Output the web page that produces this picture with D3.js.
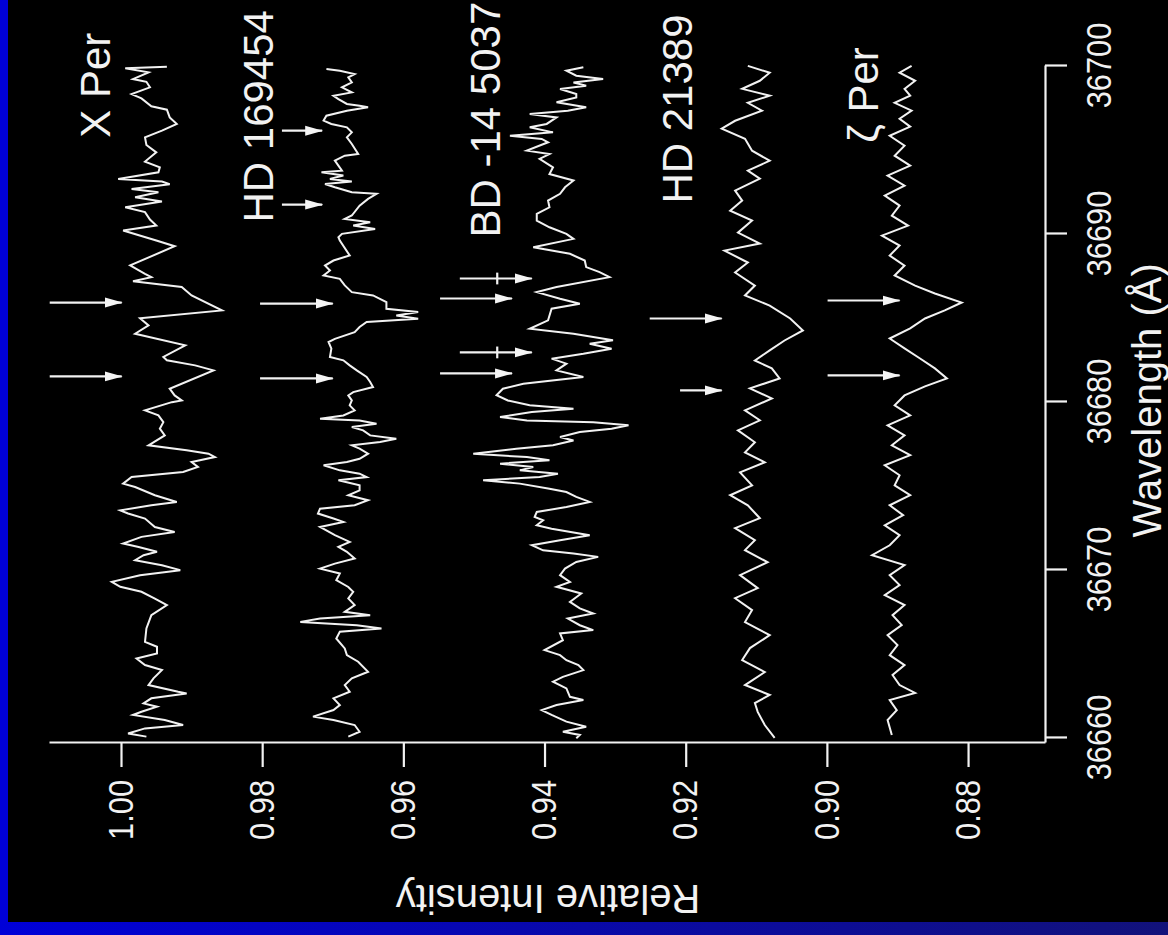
<!DOCTYPE html>
<html><head><meta charset="utf-8">
<script src="https://cdn.jsdelivr.net/npm/d3@7"></script>
<style>html,body{margin:0;padding:0;background:#000;}svg{display:block;}</style>
</head><body>
<svg id="c" width="1168" height="935"></svg>
<script>
const wavelengthTicks = [36660, 36670, 36680, 36690, 36700];
const intensityTicks = [1.00, 0.98, 0.96, 0.94, 0.92, 0.90, 0.88];
const wavelengthDomain = [36659.7, 36700];
const intensityDomain = [1.0102, 0.8691];

const starNames = ["X Per", "HD 169454", "BD -14 5037", "HD 21389", "\u03B6 Per"];

const xPer = [[36699.96,0.9935],[36699.86,0.9994],[36699.62,0.9961],[36699.22,0.9983],[36699.06,0.9964],[36698.73,0.9959],[36698.33,0.9985],[36698.07,0.9971],[36697.60,0.9957],[36697.40,0.9935],[36696.94,0.9931],[36696.55,0.9921],[36696.15,0.9942],[36695.75,0.9966],[36695.30,0.9964],[36694.86,0.9950],[36694.31,0.9966],[36693.97,0.9945],[36693.67,0.9947],[36693.28,1.0004],[36693.12,0.9942],[36692.96,0.9931],[36692.68,0.9985],[36692.48,0.9947],[36692.19,0.9980],[36691.93,0.9942],[36691.59,0.9994],[36691.30,0.9966],[36690.86,0.9959],[36690.50,0.9950],[36690.21,0.9997],[36689.61,0.9950],[36689.27,0.9924],[36688.13,0.9987],[36687.63,0.9966],[36687.43,0.9957],[36687.19,0.9983],[36686.84,0.9914],[36686.34,0.9900],[36685.45,0.9857],[36684.99,0.9973],[36684.56,0.9961],[36684.06,0.9980],[36683.37,0.9909],[36682.68,0.9940],[36682.48,0.9935],[36682.18,0.9895],[36681.88,0.9869],[36680.79,0.9931],[36680.39,0.9924],[36680.09,0.9914],[36679.99,0.9928],[36679.50,0.9966],[36679.20,0.9947],[36678.80,0.9940],[36678.41,0.9945],[36678.01,0.9938],[36677.42,0.9961],[36677.12,0.9907],[36676.92,0.9876],[36676.72,0.9867],[36676.43,0.9900],[36676.13,0.9891],[36675.83,0.9912],[36675.53,0.9985],[36675.14,0.9997],[36674.94,0.9980],[36674.45,0.9952],[36674.05,0.9921],[36673.85,0.9957],[36673.55,1.0001],[36673.36,0.9990],[36673.06,0.9966],[36672.56,0.9952],[36672.26,0.9924],[36671.97,0.9971],[36671.57,0.9997],[36671.37,0.9975],[36671.08,0.9949],[36670.88,0.9968],[36670.58,0.9980],[36670.28,0.9942],[36669.99,0.9916],[36669.69,0.9973],[36669.29,1.0013],[36669.00,1.0001],[36668.70,0.9971],[36668.30,0.9952],[36667.91,0.9935],[36667.31,0.9957],[36666.52,0.9964],[36665.72,0.9966],[36665.43,0.9949],[36665.03,0.9949],[36664.73,0.9978],[36664.34,0.9966],[36664.04,0.9942],[36663.55,0.9954],[36663.15,0.9961],[36662.75,0.9919],[36662.65,0.9907],[36662.36,0.9957],[36662.06,0.9968],[36661.86,0.9949],[36661.56,0.9971],[36661.37,0.9983],[36661.07,0.9938],[36660.77,0.9912],[36660.57,0.9966],[36660.27,0.9990],[36660.08,0.9964]];

const hd169454 = [[36699.82,0.9709],[36699.72,0.9690],[36699.52,0.9669],[36699.32,0.9678],[36699.02,0.9673],[36698.73,0.9687],[36698.43,0.9673],[36698.23,0.9699],[36698.03,0.9692],[36697.74,0.9680],[36697.64,0.9662],[36697.54,0.9650],[36697.34,0.9680],[36697.04,0.9709],[36696.75,0.9713],[36696.55,0.9702],[36696.35,0.9680],[36696.05,0.9673],[36695.75,0.9680],[36695.36,0.9673],[36694.76,0.9664],[36694.66,0.9683],[36694.37,0.9697],[36694.07,0.9692],[36693.77,0.9687],[36693.67,0.9716],[36693.48,0.9685],[36693.28,0.9704],[36693.12,0.9673],[36692.98,0.9711],[36692.78,0.9697],[36692.48,0.9673],[36692.39,0.9638],[36692.09,0.9650],[36691.69,0.9662],[36691.10,0.9673],[36690.90,0.9683],[36690.70,0.9647],[36690.50,0.9671],[36690.30,0.9640],[36690.01,0.9687],[36689.81,0.9692],[36689.61,0.9690],[36688.72,0.9676],[36688.42,0.9699],[36688.12,0.9711],[36687.83,0.9704],[36687.53,0.9713],[36687.33,0.9690],[36686.94,0.9683],[36686.54,0.9673],[36686.34,0.9643],[36685.94,0.9624],[36685.55,0.9624],[36685.35,0.9579],[36685.15,0.9610],[36684.95,0.9579],[36684.76,0.9652],[36684.46,0.9662],[36684.16,0.9669],[36683.76,0.9697],[36683.57,0.9706],[36683.17,0.9702],[36682.68,0.9704],[36682.48,0.9685],[36682.18,0.9676],[36681.88,0.9666],[36681.49,0.9652],[36681.19,0.9647],[36680.89,0.9643],[36680.59,0.9671],[36680.39,0.9678],[36680.09,0.9673],[36679.80,0.9676],[36679.50,0.9669],[36679.20,0.9685],[36679.00,0.9718],[36678.90,0.9662],[36678.71,0.9638],[36678.51,0.9673],[36678.31,0.9657],[36678.01,0.9647],[36677.81,0.9610],[36677.62,0.9633],[36677.42,0.9673],[36677.22,0.9662],[36676.92,0.9650],[36676.62,0.9662],[36676.43,0.9680],[36676.23,0.9713],[36675.93,0.9690],[36675.73,0.9662],[36675.53,0.9652],[36675.34,0.9692],[36675.04,0.9662],[36674.74,0.9662],[36674.45,0.9678],[36674.15,0.9650],[36673.85,0.9669],[36673.65,0.9718],[36673.36,0.9721],[36673.06,0.9699],[36672.86,0.9685],[36672.56,0.9718],[36672.07,0.9697],[36671.67,0.9676],[36671.37,0.9692],[36671.08,0.9680],[36670.68,0.9669],[36670.38,0.9697],[36670.08,0.9718],[36669.79,0.9690],[36669.39,0.9695],[36668.99,0.9678],[36668.70,0.9671],[36668.30,0.9678],[36667.91,0.9669],[36667.51,0.9683],[36667.31,0.9647],[36667.11,0.9718],[36666.91,0.9746],[36666.71,0.9666],[36666.52,0.9631],[36666.32,0.9690],[36665.92,0.9695],[36665.33,0.9683],[36664.93,0.9680],[36664.54,0.9664],[36663.94,0.9650],[36663.55,0.9673],[36663.15,0.9683],[36662.75,0.9676],[36662.36,0.9699],[36661.96,0.9690],[36661.66,0.9699],[36661.27,0.9728],[36661.07,0.9699],[36660.77,0.9669],[36660.37,0.9662],[36660.08,0.9678]];

const bd145037 = [[36699.92,0.9345],[36699.72,0.9369],[36699.42,0.9355],[36699.22,0.9317],[36699.02,0.9359],[36698.83,0.9341],[36698.63,0.9378],[36698.33,0.9355],[36698.13,0.9355],[36697.84,0.9383],[36697.54,0.9341],[36697.34,0.9367],[36697.14,0.9421],[36696.94,0.9383],[36696.55,0.9397],[36696.35,0.9421],[36696.05,0.9388],[36695.85,0.9449],[36695.66,0.9404],[36695.46,0.9395],[36694.96,0.9425],[36694.76,0.9393],[36694.47,0.9407],[36693.97,0.9388],[36693.57,0.9393],[36693.18,0.9359],[36692.78,0.9371],[36692.39,0.9378],[36691.99,0.9395],[36691.59,0.9393],[36691.20,0.9411],[36690.80,0.9411],[36690.40,0.9393],[36690.01,0.9369],[36689.71,0.9359],[36689.21,0.9416],[36688.82,0.9364],[36688.42,0.9343],[36688.03,0.9341],[36687.73,0.9322],[36687.43,0.9308],[36686.84,0.9383],[36686.54,0.9411],[36686.14,0.9378],[36685.85,0.9350],[36685.55,0.9390],[36684.86,0.9395],[36684.36,0.9421],[36684.06,0.9359],[36683.67,0.9303],[36683.47,0.9336],[36683.17,0.9305],[36682.87,0.9345],[36682.58,0.9390],[36682.28,0.9369],[36681.88,0.9383],[36681.49,0.9345],[36681.09,0.9430],[36680.79,0.9459],[36680.40,0.9468],[36680.09,0.9452],[36679.80,0.9421],[36679.60,0.9359],[36679.40,0.9418],[36679.10,0.9463],[36678.90,0.9425],[36678.80,0.9331],[36678.61,0.9281],[36678.41,0.9305],[36678.21,0.9350],[36677.91,0.9378],[36677.71,0.9359],[36677.42,0.9388],[36677.22,0.9440],[36676.92,0.9501],[36676.72,0.9425],[36676.53,0.9393],[36676.33,0.9463],[36676.13,0.9416],[36675.93,0.9435],[36675.73,0.9381],[36675.53,0.9407],[36675.34,0.9487],[36675.14,0.9435],[36674.84,0.9393],[36674.64,0.9369],[36674.35,0.9355],[36674.05,0.9336],[36673.75,0.9369],[36673.45,0.9411],[36673.16,0.9414],[36672.96,0.9402],[36672.66,0.9411],[36672.46,0.9390],[36672.07,0.9336],[36671.77,0.9378],[36671.47,0.9418],[36671.17,0.9402],[36670.98,0.9359],[36670.78,0.9324],[36670.48,0.9355],[36670.08,0.9371],[36669.69,0.9378],[36669.29,0.9364],[36669.00,0.9383],[36668.60,0.9348],[36668.10,0.9364],[36667.71,0.9350],[36667.41,0.9331],[36667.11,0.9367],[36666.71,0.9350],[36666.42,0.9331],[36666.22,0.9378],[36665.82,0.9374],[36665.23,0.9400],[36664.93,0.9378],[36664.63,0.9369],[36664.34,0.9352],[36664.04,0.9345],[36663.64,0.9374],[36663.35,0.9388],[36662.95,0.9369],[36662.45,0.9364],[36662.26,0.9345],[36661.96,0.9383],[36661.66,0.9404],[36661.37,0.9390],[36660.97,0.9369],[36660.67,0.9341],[36660.37,0.9374],[36660.18,0.9350],[36659.98,0.9355]];

const hd21389 = [[36700.01,0.9112],[36699.60,0.9081],[36699.12,0.9095],[36698.64,0.9120],[36698.23,0.9081],[36697.81,0.9112],[36697.34,0.9092],[36696.74,0.9130],[36696.27,0.9149],[36695.67,0.9116],[36694.96,0.9106],[36694.36,0.9081],[36693.77,0.9112],[36693.29,0.9095],[36692.58,0.9130],[36691.99,0.9120],[36691.39,0.9137],[36690.80,0.9106],[36690.08,0.9126],[36689.43,0.9095],[36689.01,0.9145],[36688.30,0.9112],[36687.71,0.9130],[36686.93,0.9102],[36686.34,0.9116],[36685.74,0.9081],[36684.97,0.9052],[36684.26,0.9034],[36683.66,0.9060],[36683.07,0.9081],[36682.47,0.9102],[36682.00,0.9078],[36681.40,0.9067],[36680.81,0.9109],[36680.21,0.9078],[36679.50,0.9116],[36678.91,0.9095],[36678.31,0.9126],[36677.60,0.9102],[36677.00,0.9116],[36676.41,0.9088],[36675.81,0.9123],[36675.04,0.9106],[36674.45,0.9137],[36673.85,0.9112],[36673.08,0.9095],[36672.49,0.9130],[36671.77,0.9102],[36671.18,0.9116],[36670.46,0.9084],[36669.69,0.9123],[36668.92,0.9098],[36668.32,0.9130],[36667.61,0.9106],[36666.90,0.9116],[36666.12,0.9081],[36665.35,0.9109],[36664.64,0.9120],[36663.92,0.9088],[36663.15,0.9116],[36662.56,0.9081],[36662.08,0.9102],[36661.55,0.9098],[36660.77,0.9088],[36660.00,0.9074]];

const zetaPer = [[36700.01,0.8880],[36699.60,0.8897],[36699.12,0.8875],[36698.64,0.8890],[36698.23,0.8882],[36697.81,0.8904],[36697.34,0.8880],[36696.86,0.8897],[36696.39,0.8882],[36695.85,0.8911],[36695.26,0.8890],[36694.66,0.8904],[36694.07,0.8882],[36693.47,0.8914],[36692.88,0.8890],[36692.28,0.8918],[36691.69,0.8897],[36691.09,0.8908],[36690.50,0.8885],[36689.90,0.8922],[36689.31,0.8897],[36688.72,0.8911],[36688.12,0.8890],[36687.53,0.8904],[36686.93,0.8875],[36686.46,0.8847],[36685.92,0.8809],[36685.45,0.8833],[36684.97,0.8861],[36684.38,0.8882],[36683.78,0.8911],[36683.19,0.8890],[36682.59,0.8868],[36682.00,0.8847],[36681.40,0.8830],[36680.93,0.8861],[36680.39,0.8890],[36679.80,0.8904],[36679.20,0.8882],[36678.61,0.8914],[36678.01,0.8890],[36677.42,0.8908],[36676.83,0.8882],[36676.23,0.8918],[36675.64,0.8897],[36675.04,0.8904],[36674.45,0.8882],[36673.85,0.8911],[36673.26,0.8892],[36672.66,0.8918],[36672.07,0.8897],[36671.47,0.8911],[36670.88,0.8936],[36670.29,0.8890],[36669.69,0.8911],[36669.10,0.8897],[36668.50,0.8918],[36667.91,0.8890],[36667.31,0.8907],[36666.72,0.8894],[36666.12,0.8914],[36665.53,0.8900],[36664.93,0.8911],[36664.34,0.8890],[36663.75,0.8907],[36663.15,0.8897],[36662.68,0.8875],[36662.26,0.8911],[36661.66,0.8901],[36661.07,0.8914],[36660.18,0.8908]];

// arrows: [wavelength, intensity start, intensity tip]
const arrowMarks = [[36685.92,1.0101,0.9999],[36681.52,1.0101,0.9999],
  [36696.15,0.9772,0.9715],[36691.75,0.9772,0.9715],[36685.86,0.9803,0.9700],[36681.40,0.9803,0.9700],
  [36687.35,0.9520,0.9418],[36686.16,0.9548,0.9446],[36682.95,0.9520,0.9418],[36681.70,0.9548,0.9446],
  [36684.97,0.9251,0.9149],[36680.69,0.9208,0.9149],
  [36686.04,0.8999,0.8897],[36681.58,0.8999,0.8897]];
// small bars: [intensity, wavelength from, wavelength to]
const barMarks = [[0.9467,36687.70,36687.00],[0.9467,36683.30,36682.60]];
// label anchors: [wavelength start, intensity baseline]
const labelAnchors = [[36695.73,1.0016],[36690.68,0.97847],[36689.79,0.94632],[36691.81,0.91912],[36695.43,0.89278]];

const series = [xPer, hd169454, bd145037, hd21389, zetaPer];

const svg = d3.select("#c");
const defs = svg.append("defs");
const grad = defs.append("linearGradient").attr("id","bg").attr("x1","0").attr("x2","1").attr("y1","0").attr("y2","0");
grad.append("stop").attr("offset","0").attr("stop-color","#0000d8");
grad.append("stop").attr("offset","1").attr("stop-color","#12127a");
defs.append("marker").attr("id","ah").attr("viewBox","0 0 18 12").attr("refX",17).attr("refY",6)
  .attr("markerWidth",18).attr("markerHeight",12).attr("markerUnits","userSpaceOnUse").attr("orient","auto")
  .append("path").attr("d","M0,1 L18,6 L0,11 Z").attr("fill","#f4f4f4");

svg.append("rect").attr("width",1168).attr("height",935).attr("fill","#000");
svg.append("rect").attr("x",0).attr("y",0).attr("width",8).attr("height",935).attr("fill","#0000d8");
svg.append("rect").attr("x",0).attr("y",922).attr("width",1168).attr("height",13).attr("fill","url(#bg)");

const W = d3.scaleLinear().domain(wavelengthDomain).range([-743, -66]);
const I = d3.scaleLinear().domain(intensityDomain).range([49, 1045]);

const g = svg.append("g").attr("transform","rotate(-90)");
const white = "#f2f2f2";
const font = "'Liberation Sans', Arial, sans-serif";

function compress(sel, f) {
  sel.each(function(){ const L = this.getComputedTextLength(); d3.select(this).attr("textLength", L*f).attr("lengthAdjust","spacingAndGlyphs"); });
}

const ax1 = g.append("g").attr("transform","translate(0,1045)")
  .call(d3.axisBottom(W).tickValues(wavelengthTicks).tickSize(22).tickPadding(19).tickSizeOuter(0).tickFormat(d3.format("d")));
const ax2 = g.append("g").attr("transform",`translate(${W(wavelengthDomain[0])},0)`)
  .call(d3.axisLeft(I).tickValues(intensityTicks).tickSize(24).tickPadding(13).tickSizeOuter(0).tickFormat(d3.format(".2f")));
[ax1, ax2].forEach(a => {
  a.selectAll("path,line").attr("stroke", white).attr("stroke-width", 2.2);
  a.selectAll("text").attr("fill", white).style("font-family", font).style("font-size","35px");
  compress(a.selectAll("text"), 0.88);
});

g.append("text").attr("x", W(36680.1)).attr("y", 1161).attr("text-anchor","middle")
  .attr("fill", white).style("font-family", font).style("font-size","40px").text("Wavelength (\u00C5)");
g.append("text").attr("transform", `translate(-885,${I(0.9395)}) rotate(-90)`).attr("text-anchor","middle")
  .attr("fill", white).style("font-family", font).style("font-size","40px").text("Relative Intensity");

const line = d3.line().x(d => W(d[0])).y(d => I(d[1]));
g.selectAll("path.spec").data(series).join("path").attr("class","spec")
  .attr("d", line).attr("fill","none").attr("stroke", white).attr("stroke-width", 2).attr("stroke-linejoin","miter");

g.selectAll("line.arrow").data(arrowMarks).join("line").attr("class","arrow")
  .attr("x1", d => W(d[0])).attr("x2", d => W(d[0]))
  .attr("y1", d => I(d[1])).attr("y2", d => I(d[2]))
  .attr("stroke", white).attr("stroke-width", 2.2).attr("marker-end","url(#ah)");
g.selectAll("line.bar").data(barMarks).join("line").attr("class","bar")
  .attr("x1", d => W(d[1])).attr("x2", d => W(d[2]))
  .attr("y1", d => I(d[0])).attr("y2", d => I(d[0]))
  .attr("stroke", white).attr("stroke-width", 2.2);

g.selectAll("text.lab").data(starNames).join("text").attr("class","lab")
  .attr("x", (d,i) => W(labelAnchors[i][0])).attr("y", (d,i) => I(labelAnchors[i][1]))
  .attr("fill", white).style("font-family", font).style("font-size","42px").text(d => d);
</script>
</body></html>
